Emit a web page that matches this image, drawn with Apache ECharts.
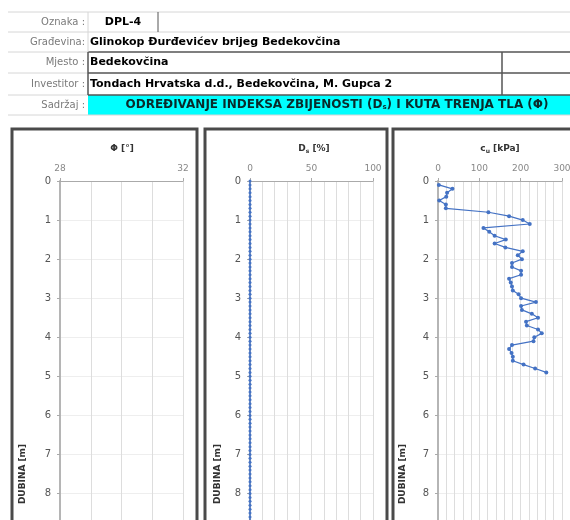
<!DOCTYPE html>
<html>
<head>
<meta charset="utf-8">
<script src="https://cdn.jsdelivr.net/npm/echarts@6/dist/echarts.min.js"></script>
<style>
  html, body { margin: 0; padding: 0; background: #fff; }
  #chart { width: 570px; height: 520px; }
</style>
</head>
<body>
<div id="chart"></div>
<script>
// header table
var headerLabels = ['Oznaka :', 'Građevina:', 'Mjesto :', 'Investitor :', 'Sadržaj :'];
var headerValues = ['DPL-4', 'Glinokop Đurđevićev brijeg Bedekovčina', 'Bedekovčina', 'Tondach Hrvatska d.d., Bedekovčina, M. Gupca 2'];

// c_u [kPa] by depth [m]
var cuDepths = [0.1, 0.2, 0.3, 0.4, 0.5, 0.6, 0.7, 0.8, 0.9, 1.0,
  1.1, 1.2, 1.3, 1.4, 1.5, 1.6, 1.7, 1.8, 1.9, 2.0,
  2.1, 2.2, 2.3, 2.4, 2.5, 2.6, 2.7, 2.8, 2.9, 3.0,
  3.1, 3.2, 3.3, 3.4, 3.5, 3.6, 3.7, 3.8, 3.9, 4.0,
  4.1, 4.2, 4.3, 4.4, 4.5, 4.6, 4.7, 4.8, 4.9];
var cuValues = [2, 35, 22, 20, 3, 19, 19, 122, 172, 205,
  222, 110, 124, 137, 164, 137, 163, 205, 193, 203,
  179, 179, 201, 201, 172, 176, 179, 181, 195, 201,
  237, 201, 203, 227, 242, 213, 215, 242, 251, 233,
  231, 179, 172, 178, 181, 181, 207, 235, 262];

// D_s [%] by depth [m]
var dsDepths = [0.0, 0.1, 0.2, 0.3, 0.4, 0.5, 0.6, 0.7, 0.8, 0.9,
  1.0, 1.1, 1.2, 1.3, 1.4, 1.5, 1.6, 1.7, 1.8, 1.9,
  2.0, 2.1, 2.2, 2.3, 2.4, 2.5, 2.6, 2.7, 2.8, 2.9,
  3.0, 3.1, 3.2, 3.3, 3.4, 3.5, 3.6, 3.7, 3.8, 3.9,
  4.0, 4.1, 4.2, 4.3, 4.4, 4.5, 4.6, 4.7, 4.8, 4.9,
  5.0, 5.1, 5.2, 5.3, 5.4, 5.5, 5.6, 5.7, 5.8, 5.9,
  6.0, 6.1, 6.2, 6.3, 6.4, 6.5, 6.6, 6.7, 6.8, 6.9,
  7.0, 7.1, 7.2, 7.3, 7.4, 7.5, 7.6, 7.7, 7.8, 7.9,
  8.0, 8.1, 8.2, 8.3, 8.4, 8.5, 8.6, 8.7, 8.8, 8.9, 9.0];
var dsValues = [0, 0, 0, 0, 0, 0, 0, 0, 0, 0,
  0, 0, 0, 0, 0, 0, 0, 0, 0, 0,
  0, 0, 0, 0, 0, 0, 0, 0, 0, 0,
  0, 0, 0, 0, 0, 0, 0, 0, 0, 0,
  0, 0, 0, 0, 0, 0, 0, 0, 0, 0,
  0, 0, 0, 0, 0, 0, 0, 0, 0, 0,
  0, 0, 0, 0, 0, 0, 0, 0, 0, 0,
  0, 0, 0, 0, 0, 0, 0, 0, 0, 0,
  0, 0, 0, 0, 0, 0, 0, 0, 0, 0, 0];

// x axis ranges: [min, max, labelStep]
var phiAxis = [28, 32, 4];
var dsAxis = [0, 100, 50];
var cuAxis = [0, 300, 100];

var FONT = 'DejaVu Sans, Verdana, sans-serif';
var BLUE = '#4472C4';

function pairs(xs, ys) {
  return ys.map(function(d, i) { return [xs[i], d]; });
}

function xAx(idx, range, minorSplit) {
  return {
    type: 'value', gridIndex: idx, position: 'top',
    min: range[0], max: range[1], interval: range[2],
    axisLine: { show: true, lineStyle: { color: '#aaa' } },
    axisTick: { show: true, length: 3, lineStyle: { color: '#aaa' } },
    axisLabel: { color: '#888', fontSize: 9, fontFamily: FONT, margin: 8 },
    splitLine: { show: true, lineStyle: { color: '#ddd' } },
    minorTick: { show: false, splitNumber: minorSplit },
    minorSplitLine: { show: true, lineStyle: { color: '#ddd' } }
  };
}

function yAx(idx, gap) {
  return {
    type: 'value', gridIndex: idx, inverse: true,
    min: 0, max: 15, interval: 1,
    name: 'DUBINA [m]', nameLocation: 'middle', nameGap: gap, nameRotate: 90,
    nameTextStyle: { color: '#333', fontSize: 9, fontWeight: 'bold', fontFamily: FONT },
    axisLine: { show: true, lineStyle: { color: '#b5b5b5', width: 2 } },
    axisTick: { show: true, length: 3, lineStyle: { color: '#aaa' } },
    axisLabel: { color: '#555', fontSize: 10, fontFamily: FONT, margin: 9 },
    splitLine: { show: true, lineStyle: { color: '#eee' } }
  };
}

// header table drawn as graphic elements
var rowTops = [12, 32, 52, 73, 95, 115];
var g = [];
function line(x1, y1, x2, y2, color, w) {
  g.push({ type: 'line', shape: { x1: x1, y1: y1, x2: x2, y2: y2 },
    style: { stroke: color, lineWidth: w || 1 } });
}
function txt(x, y, text, opts) {
  var s = { text: text, x: x, y: y, fontFamily: FONT, fontSize: 11, fill: '#000',
    verticalAlign: 'middle', align: 'left' };
  for (var k in opts) s[k] = opts[k];
  g.push({ type: 'text', style: s, z: 10 });
}

g.push({ type: 'rect', shape: { x: 88, y: 95, width: 482, height: 20 }, style: { fill: '#00ffff' } });
line(8, 12, 570, 12, '#d6d6d6');
line(8, 32, 570, 32, '#d6d6d6');
line(8, 52, 88, 52, '#d6d6d6');
line(88, 52, 570, 52, '#555', 1.5);
line(8, 73, 88, 73, '#d6d6d6');
line(88, 73, 570, 73, '#555', 1.5);
line(8, 95, 88, 95, '#d6d6d6');
line(88, 95, 570, 95, '#555', 1.5);
line(8, 115, 570, 115, '#d6d6d6');
line(88, 12, 88, 52, '#d6d6d6');
line(88, 52, 88, 95, '#555', 1.5);
line(158, 12, 158, 32, '#555', 1);
line(502, 52, 502, 95, '#555', 1.5);

headerLabels.forEach(function(l, i) {
  txt(85, (rowTops[i] + rowTops[i + 1]) / 2, l, { align: 'right', fill: '#7a7a7a', fontSize: 10 });
});
txt(123, 22, headerValues[0], { align: 'center', fontWeight: 'bold' });
txt(90, 42, headerValues[1], { fontWeight: 'bold' });
txt(90, 62.5, headerValues[2], { fontWeight: 'bold' });
txt(90, 84, headerValues[3], { fontWeight: 'bold' });
g.push({ type: 'text', z: 10, style: {
  x: 337, y: 105, align: 'center', verticalAlign: 'middle',
  text: '{b|ODREĐIVANJE INDEKSA ZBIJENOSTI (D}{s|s}{b|) I KUTA TRENJA TLA (Φ)}',
  rich: {
    b: { fontFamily: FONT, fontSize: 12, fontWeight: 'bold', fill: '#0a2a2a' },
    s: { fontFamily: FONT, fontSize: 7, fontWeight: 'bold', fill: '#0a2a2a', verticalAlign: 'bottom', padding: [4, 0, 0, 0] }
  }
} });

// chart panel frames
[[12, 185], [205, 182], [393, 200]].forEach(function(p) {
  g.push({ type: 'rect', shape: { x: p[0], y: 129, width: p[1], height: 420 },
    style: { fill: 'none', stroke: '#4a4a4a', lineWidth: 3 } });
});

// panel titles
function title(x, main, sub, unit) {
  var rich = {
    m: { fontFamily: FONT, fontSize: 9, fontWeight: 'bold', fill: '#333' },
    s: { fontFamily: FONT, fontSize: 6, fontWeight: 'bold', fill: '#333', padding: [4, 0, 0, 0] }
  };
  var t = '{m|' + main + '}' + (sub ? '{s|' + sub + '}' : '') + '{m| ' + unit + '}';
  g.push({ type: 'text', z: 10, style: { x: x, y: 149, align: 'center', verticalAlign: 'middle', text: t, rich: rich } });
}
title(122, 'Φ', '', '[°]');
title(314, 'D', 's', '[%]');
title(500, 'c', 'u', '[kPa]');

var chart = echarts.init(document.getElementById('chart'), null, { renderer: 'canvas' });
chart.setOption({
  backgroundColor: '#fff',
  animation: false,
  grid: [
    { left: 60, top: 181, width: 123, height: 586, outerBoundsMode: 'none' },
    { left: 250, top: 181, width: 123, height: 586, outerBoundsMode: 'none' },
    { left: 438, top: 181, width: 124, height: 586, outerBoundsMode: 'none' }
  ],
  xAxis: [xAx(0, phiAxis, 4), xAx(1, dsAxis, 5), xAx(2, cuAxis, 5)],
  yAxis: [yAx(0, 33), yAx(1, 28), yAx(2, 31)],
  series: [
    {
      type: 'line', xAxisIndex: 1, yAxisIndex: 1,
      data: pairs(dsValues, dsDepths),
      symbol: 'circle', symbolSize: 3, showSymbol: true,
      lineStyle: { color: BLUE, width: 1.2 }, itemStyle: { color: BLUE }
    },
    {
      type: 'line', xAxisIndex: 2, yAxisIndex: 2,
      data: pairs(cuValues, cuDepths),
      symbol: 'circle', symbolSize: 4, showSymbol: true,
      lineStyle: { color: BLUE, width: 1.2 }, itemStyle: { color: BLUE }
    }
  ],
  graphic: g
});
</script>
</body>
</html>
